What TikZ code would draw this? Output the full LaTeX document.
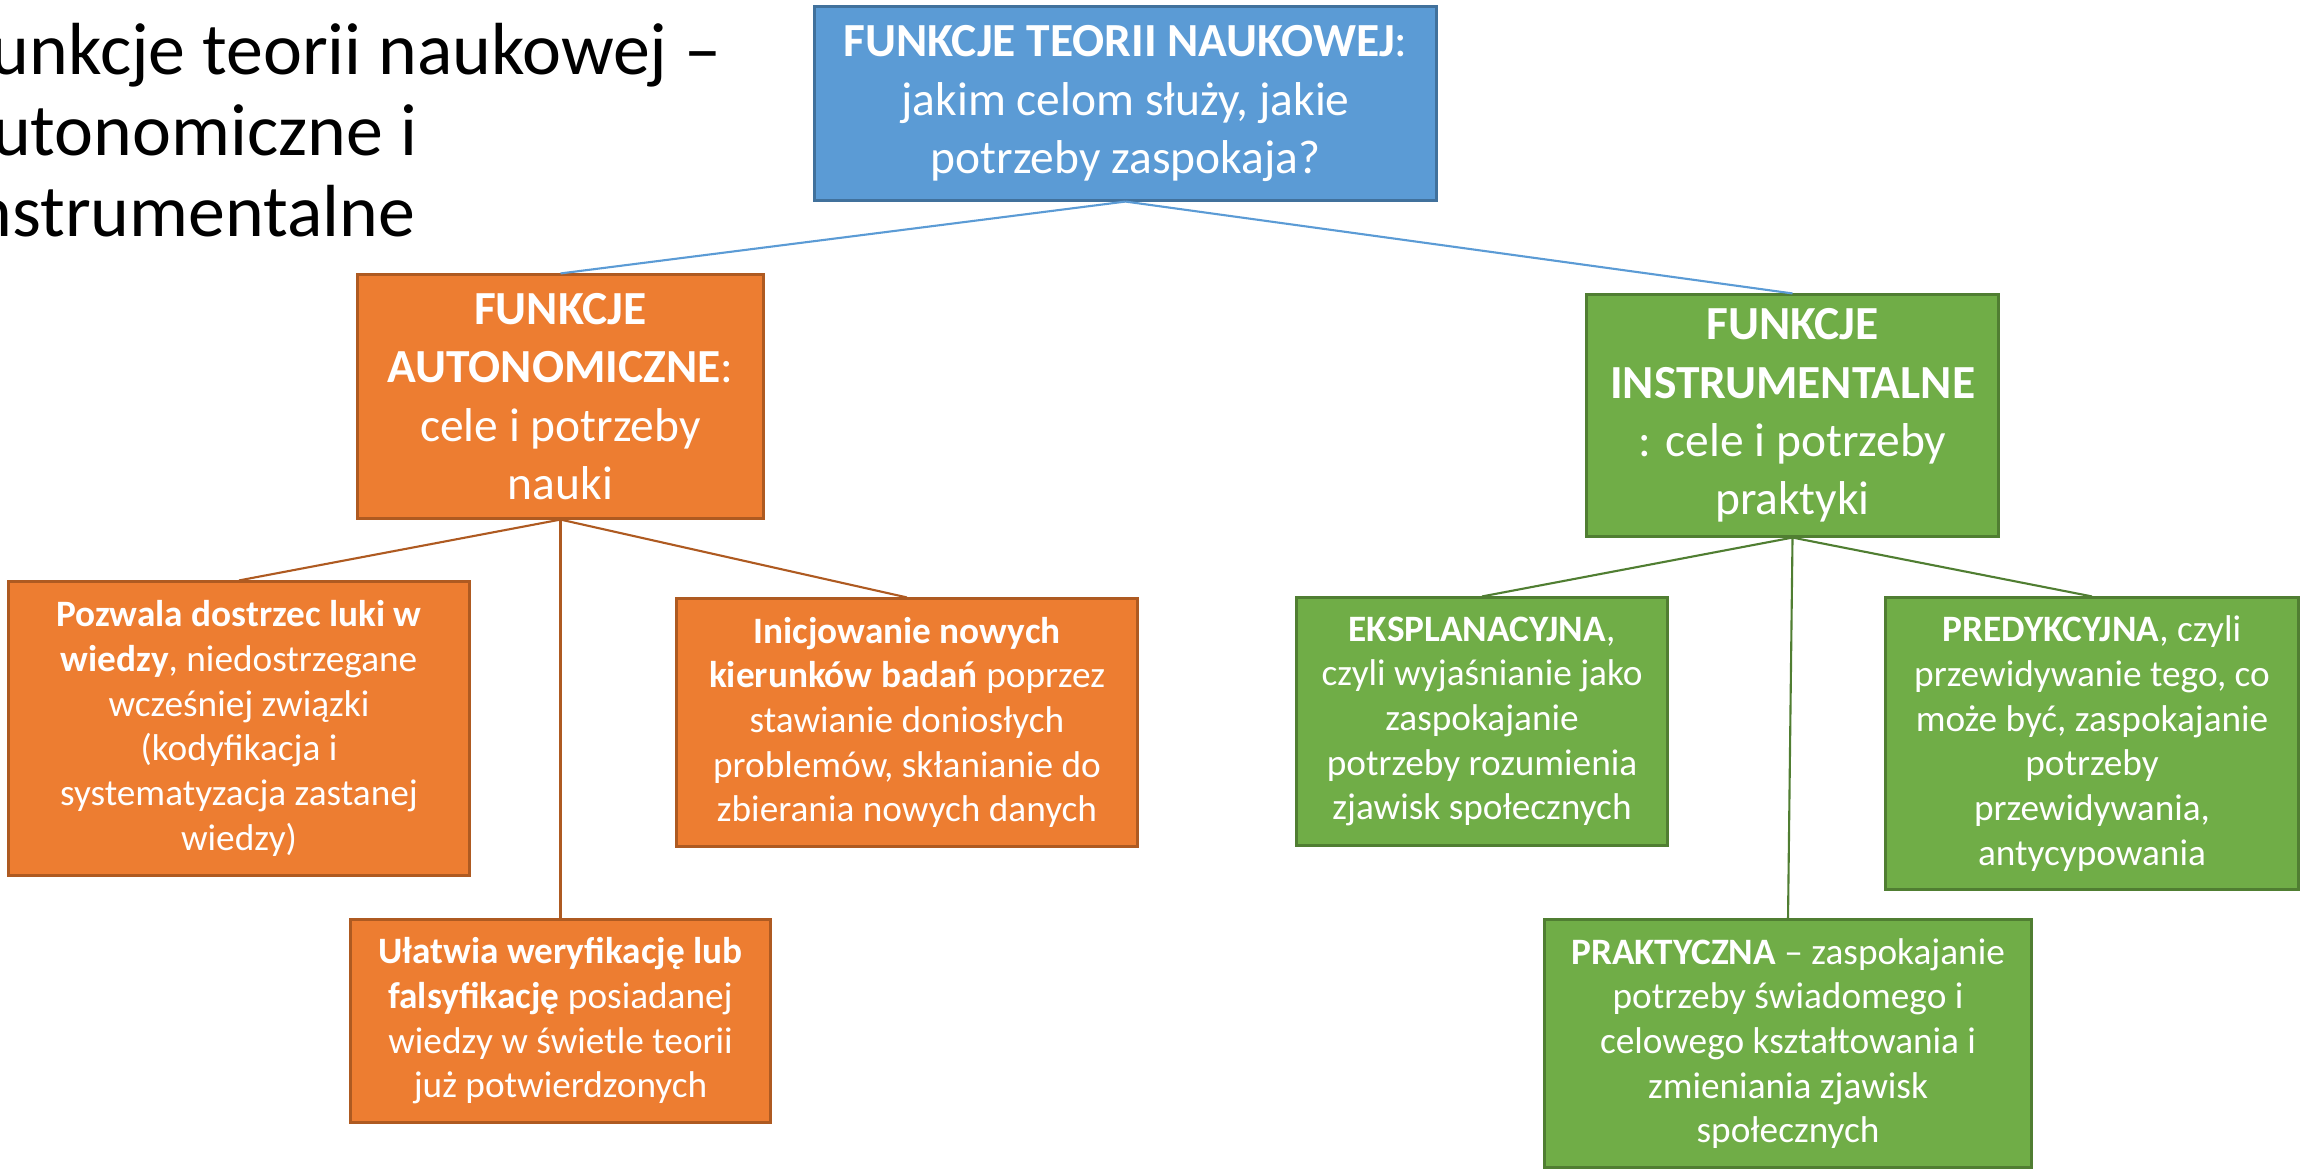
\documentclass[tikz,border=0pt]{standalone}
\usepackage{fontspec}
\setmainfont{Carlito}
\definecolor{nieb}{HTML}{5B9BD5}
\definecolor{niebr}{HTML}{41719C}
\definecolor{pom}{HTML}{ED7D31}
\definecolor{pomr}{HTML}{AE5A21}
\definecolor{ziel}{HTML}{70AD47}
\definecolor{zielr}{HTML}{507E32}
\begin{document}
\begin{tikzpicture}[x=0.01cm,y=-0.01cm]
\useasboundingbox (0,0) rectangle (2310,1169);
\clip (0,0) rectangle (2310,1169);
\tikzstyle{every node}=[draw,shape=rectangle,line width=0.85pt,text=white,align=center,inner sep=0pt];
\tikzstyle{duzy}=[font=\fontsize{13.5}{16.6}\selectfont];
\tikzstyle{maly}=[font=\fontsize{10.6}{12.7}\selectfont];
\node[duzy,fill=nieb,draw=niebr,minimum width=6.21cm,minimum height=1.93cm] (top) at (1125.5, 103.5)
  {\textbf{FUNKCJE TEORII NAUKOWEJ}:\\ jakim celom służy, jakie\\ potrzeby zaspokaja?};
\node[duzy,fill=pom,draw=pomr,minimum width=4.05cm,minimum height=2.43cm] (aut) at (560.5, 396.5)
  {\textbf{FUNKCJE}\\ \textbf{AUTONOMICZNE}:\\ cele i potrzeby\\ nauki};
\node[duzy,fill=ziel,draw=zielr,minimum width=4.11cm,minimum height=2.41cm] (ins) at (1792.5, 415.5)
  {\textbf{FUNKCJE}\\ \textbf{INSTRUMENTALNE}\\ : cele i potrzeby\\ praktyki};
\node[maly,fill=pom,draw=pomr,minimum width=4.6cm,minimum height=2.93cm] (a1) at (239, 728.5)
  {\textbf{Pozwala dostrzec luki w}\\ \textbf{wiedzy}, niedostrzegane\\ wcześniej związki\\ (kodyfikacja i\\ systematyzacja zastanej\\ wiedzy)};
\node[maly,fill=pom,draw=pomr,minimum width=4.6cm,minimum height=2.47cm] (a2) at (907, 722.5)
  {\textbf{Inicjowanie nowych}\\ \textbf{kierunków badań} poprzez\\ stawianie doniosłych\\ problemów, skłanianie do\\ zbierania nowych danych};
\node[maly,fill=pom,draw=pomr,minimum width=4.19cm,minimum height=2.02cm] (a3) at (560.5, 1021)
  {\textbf{Ułatwia weryfikację lub}\\ \textbf{falsyfikację} posiadanej\\ wiedzy w świetle teorii\\ już potwierdzonych};
\node[maly,fill=ziel,draw=zielr,minimum width=3.7cm,minimum height=2.47cm] (i1) at (1482, 721.5)
  {\textbf{EKSPLANACYJNA},\\ czyli wyjaśnianie jako\\ zaspokajanie\\ potrzeby rozumienia\\ zjawisk społecznych};
\node[maly,fill=ziel,draw=zielr,minimum width=4.12cm,minimum height=2.91cm] (i2) at (2092, 743.5)
  {\textbf{PREDYKCYJNA}, czyli\\ przewidywanie tego, co\\ może być, zaspokajanie\\ potrzeby\\ przewidywania,\\ antycypowania};
\node[maly,fill=ziel,draw=zielr,minimum width=4.86cm,minimum height=2.47cm] (i3) at (1788, 1043.5)
  {\textbf{PRAKTYCZNA} -- zaspokajanie\\ potrzeby świadomego i\\ celowego kształtowania i\\ zmieniania zjawisk\\ społecznych};
\tikzstyle{every node}=[];
\node[anchor=base west,inner sep=0pt,align=left,font=\fontsize{21}{23}\selectfont] (t0) at (-44, 236)
  {Funkcje teorii naukowej --\\ autonomiczne i\\ instrumentalne};
\draw [nieb,line width=0.6pt] (top.south) -- (aut.north);
\draw [nieb,line width=0.6pt] (top.south) -- (ins.north);
\draw [pomr,line width=0.6pt] (aut.south) -- (a1.north);
\draw [pomr,line width=0.6pt] (aut.south) -- (a2.north);
\draw [pomr,line width=0.6pt] (aut.south) -- (a3.north);
\draw [zielr,line width=0.6pt] (ins.south) -- (i1.north);
\draw [zielr,line width=0.6pt] (ins.south) -- (i2.north);
\draw [zielr,line width=0.6pt] (ins.south) -- (i3.north);
\end{tikzpicture}
\end{document}
